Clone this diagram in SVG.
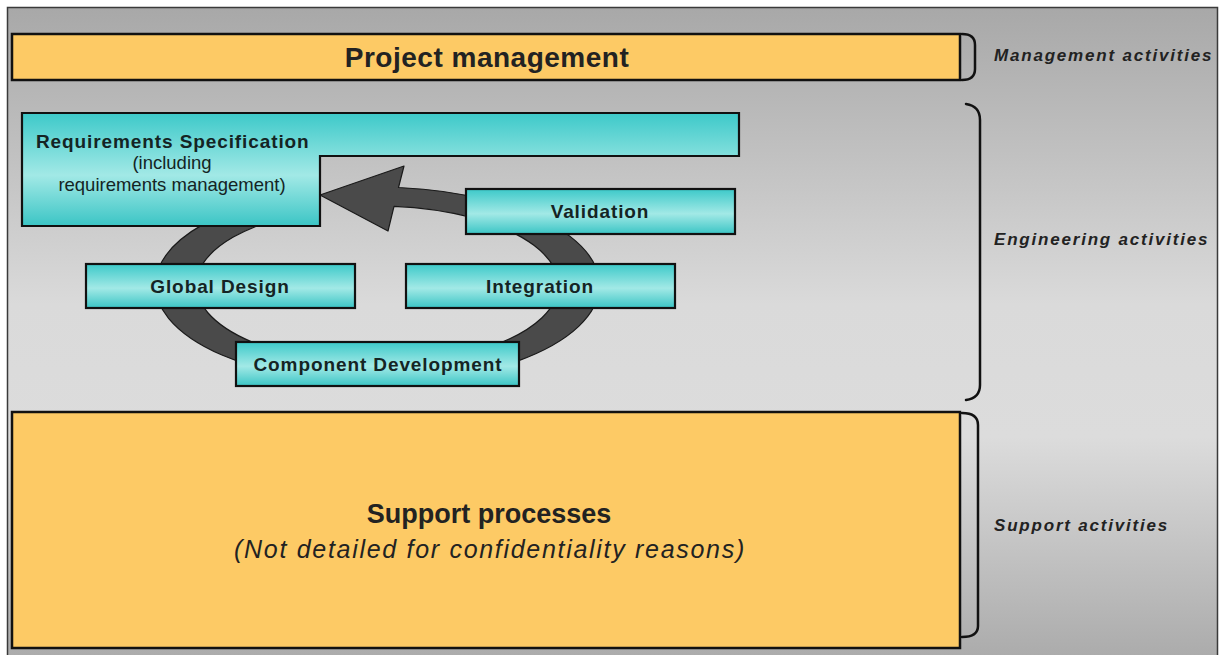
<svg xmlns="http://www.w3.org/2000/svg" width="1223" height="655" viewBox="0 0 1223 655">
  <style>
    .yellow { fill: #fdca65; stroke: #111; stroke-width: 2.5; }
    .cyan { fill: url(#cyanGrad); stroke: #111; stroke-width: 2.2; }
    .bt { font-family: "Liberation Sans", Arial, sans-serif; font-weight: bold; fill: #222; text-anchor: middle; }
    .nt { font-family: "Liberation Sans", Arial, sans-serif; font-weight: bold; font-size: 19px; letter-spacing: 0.9px; fill: #142424; text-anchor: middle; }
    .sub { font-family: "Liberation Sans", Arial, sans-serif; font-size: 18.5px; fill: #142424; text-anchor: middle; }
    .lab { font-family: "Liberation Sans", Arial, sans-serif; font-weight: bold; font-style: italic; font-size: 17px; letter-spacing: 1.8px; fill: #222; }
    .brace { fill: none; stroke: #111; stroke-width: 2.5; stroke-linecap: round; }
  </style>
  <defs>
    <linearGradient id="bgGrad" x1="0" y1="0" x2="0" y2="1">
      <stop offset="0" stop-color="#a8a8a8"/>
      <stop offset="0.45" stop-color="#dadada"/>
      <stop offset="0.65" stop-color="#dcdcdc"/>
      <stop offset="1" stop-color="#a9a9a9"/>
    </linearGradient>
    <linearGradient id="cyanGrad" x1="0" y1="0" x2="0" y2="1">
      <stop offset="0" stop-color="#3dc9c9"/>
      <stop offset="0.55" stop-color="#a2e9e6"/>
      <stop offset="1" stop-color="#3bc5c5"/>
    </linearGradient>
  </defs>

  <rect x="0" y="0" width="1223" height="655" fill="#ffffff"/>
  <rect id="frame" x="7.5" y="7.5" width="1210" height="660" fill="url(#bgGrad)" stroke="#3a3a3a" stroke-width="1.5"/>

  <g id="connectors">
    <path id="cycle" d="M 280 197 A 222 98 0 1 0 398.5 187.5 L 404 166 L 320 195 L 388 231 L 394 206.3 A 181 79 0 1 1 295 214.6 Z" fill="#4a4a4a" stroke="#1a1a1a" stroke-width="1.2" stroke-linejoin="round"/>
  </g>

  <g id="brackets">
    <path class="brace" d="M 962 34 Q 975 34 975 45 L 975 69 Q 975 80 962 80"/>
    <path class="brace" d="M 966 104 Q 980 106 980 120 L 980 385 Q 980 398 966 400"/>
    <path class="brace" d="M 962 413 Q 978 413 978 425 L 978 626 Q 978 637 962 637"/>
  </g>

  <g id="project-management">
    <rect class="yellow" x="12" y="34" width="948" height="46"/>
    <text class="bt" x="487" y="67" font-size="28" letter-spacing="0.5">Project management</text>
  </g>

  <g id="requirements-specification">
    <path class="cyan" d="M 22 113 L 739 113 L 739 156 L 320 156 L 320 226 L 22 226 Z"/>
    <text class="nt" x="36" y="148" style="text-anchor:start" letter-spacing="0.8">Requirements Specification</text>
    <text class="sub" x="172" y="169">(including</text>
    <text class="sub" x="172" y="191">requirements management)</text>
  </g>

  <g id="validation">
    <rect class="cyan" x="466" y="189" width="269" height="45"/>
    <text class="nt" x="600" y="218">Validation</text>
  </g>

  <g id="global-design">
    <rect class="cyan" x="86" y="264" width="269" height="44"/>
    <text class="nt" x="220" y="293">Global Design</text>
  </g>

  <g id="integration">
    <rect class="cyan" x="406" y="264" width="269" height="44"/>
    <text class="nt" x="540" y="293">Integration</text>
  </g>

  <g id="component-development">
    <rect class="cyan" x="236" y="342" width="283" height="44"/>
    <text class="nt" x="378" y="371">Component Development</text>
  </g>

  <g id="support-processes">
    <rect class="yellow" x="12" y="412" width="948" height="236"/>
    <text class="bt" x="489" y="523" font-size="27">Support processes</text>
    <text x="490" y="558" font-family="'Liberation Sans', Arial, sans-serif" font-style="italic" font-size="25" letter-spacing="1.7" fill="#222" text-anchor="middle">(Not detailed for confidentiality reasons)</text>
  </g>

  <g id="labels">
    <text class="lab" x="994" y="61">Management activities</text>
    <text class="lab" x="994" y="245">Engineering activities</text>
    <text class="lab" x="994" y="531">Support activities</text>
  </g>
</svg>
